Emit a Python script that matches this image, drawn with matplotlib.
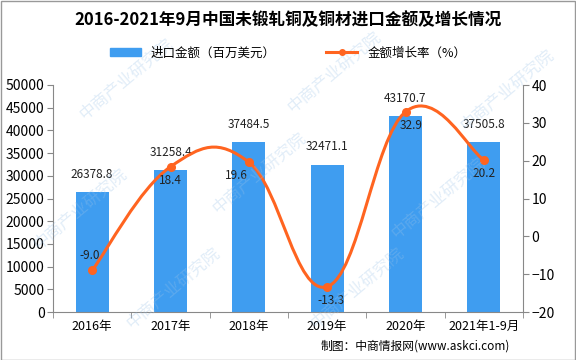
import numpy as np
import matplotlib
matplotlib.use("Agg")
import matplotlib.pyplot as plt
from matplotlib.path import Path
from matplotlib.patches import PathPatch, Patch
from matplotlib.lines import Line2D

plt.rcParams['font.family'] = ['Noto Sans CJK SC', 'DejaVu Sans']

# data
categories = ["2016年", "2017年", "2018年", "2019年", "2020年", "2021年1-9月"]
import_value = [26378.8, 31258.4, 37484.5, 32471.1, 43170.7, 37505.8]
growth_rate = [-9.0, 18.4, 19.6, -13.3, 32.9, 20.2]

BAR_COLOR = '#3F9DF0'
LINE_COLOR = '#FF6420'

fig = plt.figure(figsize=(5.76, 3.6), dpi=100)

# watermark (kept inside the figure)
for wx, wy in [(0.14, 0.42), (0.45, 0.52), (0.76, 0.45), (0.3, 0.2), (0.62, 0.2),
               (0.22, 0.78), (0.58, 0.8), (0.88, 0.75)]:
    fig.text(wx, wy, "中商产业研究院", rotation=40, fontsize=12, color='#9CC3E8',
             alpha=0.3, ha='center', va='center', zorder=0)

ax = fig.add_axes([53/576, 1 - 312/360, (523-53)/576, (312-85)/360])
ax.patch.set_alpha(0)
ax2 = ax.twinx()

x = np.arange(len(categories))
ax.bar(x, import_value, width=0.42, color=BAR_COLOR, zorder=2)
ax.set_xlim(-0.5, len(categories) - 0.5)
ax.set_ylim(0, 50000)
ax.set_yticks(range(0, 50001, 5000))
ax2.set_ylim(-20, 40)
ax2.set_yticks(range(-20, 41, 10))

# bar labels
for xi, v in zip(x, import_value):
    ax.annotate(f"{v:.1f}", (xi, v), xytext=(0, 8), textcoords='offset points',
                ha='center', va='bottom', fontsize=8.5, color='#222222')

# smoothed line (catmull-rom -> bezier), like excel's smoothed line
pts = np.column_stack([x, growth_rate]).astype(float)
verts = [tuple(pts[0])]
codes = [Path.MOVETO]
k = 1 / 5
for i in range(len(pts) - 1):
    p0 = pts[i - 1] if i > 0 else pts[i]
    p1, p2 = pts[i], pts[i + 1]
    p3 = pts[i + 2] if i + 2 < len(pts) else pts[i + 1]
    c1 = p1 + (p2 - p0) * k
    c2 = p2 - (p3 - p1) * k
    verts += [tuple(c1), tuple(c2), tuple(p2)]
    codes += [Path.CURVE4] * 3
ax2.add_patch(PathPatch(Path(verts, codes), fill=False, edgecolor=LINE_COLOR,
                        lw=2.2, zorder=3))
ax2.plot(x, growth_rate, 'o', color=LINE_COLOR, ms=5.5, zorder=4)

# line labels
offsets = [(-2, 6, 'bottom'), (0, -5, 'top'), (-9, -5, 'top'),
           (3, -5, 'top'), (4, -5, 'top'), (0, -5, 'top')]
for xi, v, (dx, dy, va) in zip(x, growth_rate, offsets):
    ax2.annotate(f"{v:.1f}", (xi, v), xytext=(dx, dy), textcoords='offset points',
                 ha='center', va=va, fontsize=8.5, color='#222222', zorder=5)

# axes styling
for a in (ax, ax2):
    a.spines['top'].set_visible(False)
    for s in ('left', 'right', 'bottom'):
        a.spines[s].set_color('#888888')
ax.spines['right'].set_visible(False)
ax2.spines['left'].set_visible(False)
ax2.spines['bottom'].set_visible(False)

ax.set_xticks(x)
ax.set_xticklabels(categories, fontsize=9)
ax.tick_params(axis='x', length=0, pad=6)
ax.set_xticks(np.arange(-0.5, len(categories), 1), minor=True)
ax.tick_params(axis='x', which='minor', length=4, color='#888888')
ax.tick_params(axis='y', labelsize=10, length=4, color='#888888', pad=2)
ax2.tick_params(axis='y', labelsize=10, length=4, color='#888888', pad=2)

# title / legend
fig.text(0.5, 1 - 20/360, "2016-2021年9月中国未锻轧铜及铜材进口金额及增长情况",
         ha='center', va='center', fontsize=12, fontweight='bold')
handles = [Patch(color=BAR_COLOR, label='进口金额（百万美元）'),
           Line2D([0], [0], color=LINE_COLOR, lw=2.2, marker='o', ms=4,
                  label='金额增长率（%）')]
fig.legend(handles=handles, loc='center', bbox_to_anchor=(0.5, 1 - 53/360),
           ncol=2, frameon=False, fontsize=9, handlelength=2.5,
           handleheight=0.6, columnspacing=4)

fig.text(510/576, 1 - 346/360, "制图：中商情报网(www.askci.com)", ha='right',
         va='center', fontsize=8.5)

fig.patches.append(plt.Rectangle((0.001, 0.001), 0.997, 0.997, transform=fig.transFigure,
                                 fill=False, edgecolor='#999999', lw=1))

fig.savefig('out.png', dpi=100)
